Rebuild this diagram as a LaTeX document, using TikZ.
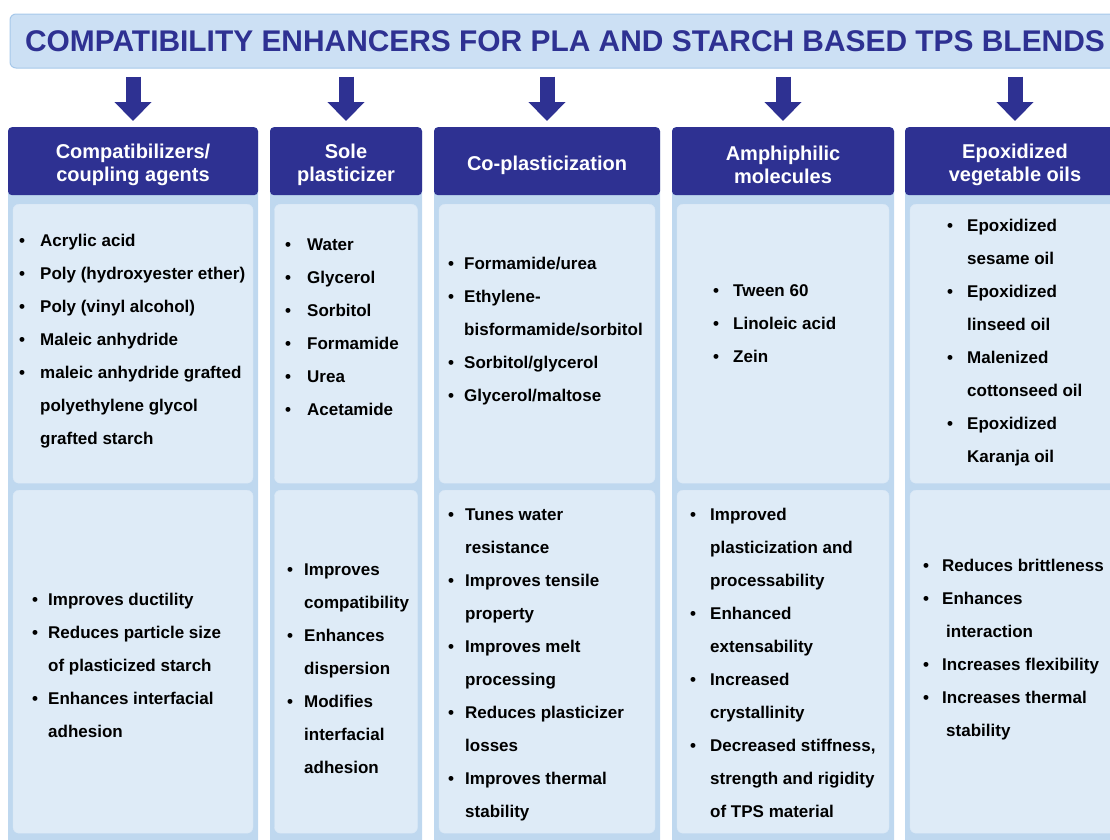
\documentclass[tikz,border=0pt]{standalone}
\usepackage{fontspec}
\setmainfont{Liberation Sans}
\usetikzlibrary{positioning,arrows.meta}

\definecolor{navy}{HTML}{2E3192}
\definecolor{bannerfill}{HTML}{CCE0F4}
\definecolor{bannerline}{HTML}{A6C8EA}
\definecolor{colfill}{HTML}{BFD8EF}
\definecolor{panelfill}{HTML}{DEEBF7}

\newlength\bw
\newcommand\bl{\makebox[\bw][l]{\textbullet}}
\newcommand\ct{\hspace*{\bw}}
\newcommand\hstrut{\rule{0pt}{22pt}}

\tikzset{
  banner/.style={draw=bannerline, fill=bannerfill, line width=1pt, rounded corners=6pt,
    minimum width=1110pt, minimum height=54pt, inner sep=0pt, text=navy,
    font=\fontsize{29.9}{30}\selectfont\bfseries},
  head/.style={fill=navy, rounded corners=4pt, minimum height=68pt, inner sep=0pt,
    anchor=north, align=center, text=white, font=\fontsize{20}{23}\selectfont\bfseries},
  column/.style={fill=colfill, rounded corners=4pt},
  panel/.style={fill=panelfill, draw=panelfill!85!colfill, rounded corners=6pt,
    anchor=north, inner sep=0pt},
  items/.style={anchor=west, align=left, inner sep=0pt,
    font=\fontsize{17}{33}\selectfont\bfseries},
  bgap/.code={\setlength\bw{#1}},
  down/.style={navy, line width=15pt, -{Triangle[width=36pt,length=19pt]},
    shorten <=8pt, shorten >=6pt}
}

\begin{document}
\begin{tikzpicture}[x=1pt, y=-1pt]
  \useasboundingbox (0,0) rectangle (1110,839);

  % title
  \node (banner) [banner] at (565,41) {COMPATIBILITY ENHANCERS FOR PLA AND STARCH BASED TPS BLENDS};

  % column backgrounds
  \path[column] (8,127) rectangle (258,850);
  \path[column] (270,127) rectangle (422,850);
  \path[column] (434,127) rectangle (660,850);
  \path[column] (672,127) rectangle (894,850);
  \path[column] (905,127) rectangle (1125,850);

  % headers
  \node (h1) [head, minimum width=250pt] at (133,127) {\hstrut Compatibilizers/\\coupling agents};
  \node (h2) [head, minimum width=152pt] at (346,127) {\hstrut Sole\\plasticizer};
  \node (h3) [head, minimum width=226pt] at (547,127) {\hstrut Co-plasticization};
  \node (h4) [head, minimum width=222pt] at (783,127) {\hstrut Amphiphilic\\molecules};
  \node (h5) [head, minimum width=220pt] at (1015,127) {\hstrut Epoxidized\\vegetable oils};

  % panels
  \node (p1a) [panel, minimum width=240pt, minimum height=279pt] at (133,204) {};
  \node (p1b) [panel, minimum width=240pt, minimum height=343pt] at (133,490) {};
  \node (p2a) [panel, minimum width=143pt, minimum height=279pt] at (346,204) {};
  \node (p2b) [panel, minimum width=143pt, minimum height=343pt] at (346,490) {};
  \node (p3a) [panel, minimum width=216pt, minimum height=279pt] at (547,204) {};
  \node (p3b) [panel, minimum width=216pt, minimum height=343pt] at (547,490) {};
  \node (p4a) [panel, minimum width=212pt, minimum height=279pt] at (783,204) {};
  \node (p4b) [panel, minimum width=212pt, minimum height=343pt] at (783,490) {};
  \node (p5a) [panel, minimum width=210pt, minimum height=279pt] at (1015,204) {};
  \node (p5b) [panel, minimum width=210pt, minimum height=343pt] at (1015,490) {};

  % lists
  \node (t1a) [items, bgap=21pt] at (19,341) {\bl Acrylic acid\\ \bl Poly (hydroxyester ether)\\
    \bl Poly (vinyl alcohol)\\ \bl Maleic anhydride\\ \bl maleic anhydride grafted\\
    \ct polyethylene glycol\\ \ct grafted starch};
  \node (t1b) [items, bgap=16pt] at (32,665) {\bl Improves ductility\\ \bl Reduces particle size\\
    \ct of plasticized starch\\ \bl Enhances interfacial\\ \ct adhesion};
  \node (t2a) [items, bgap=22pt] at (285,327) {\bl Water\\ \bl Glycerol\\ \bl Sorbitol\\
    \bl Formamide\\ \bl Urea\\ \bl Acetamide};
  \node (t2b) [items, bgap=17pt] at (287,669) {\bl Improves\\ \ct compatibility\\ \bl Enhances\\
    \ct dispersion\\ \bl Modifies\\ \ct interfacial\\ \ct adhesion};
  \node (t3a) [items, bgap=16pt] at (448,331) {\bl Formamide/urea\\ \bl Ethylene-\\
    \ct bisformamide/sorbitol\\ \bl Sorbitol/glycerol\\ \bl Glycerol/maltose};
  \node (t3b) [items, bgap=17pt] at (448,665) {\bl Tunes water\\ \ct resistance\\
    \bl Improves tensile\\ \ct property\\ \bl Improves melt\\ \ct processing\\
    \bl Reduces plasticizer\\ \ct losses\\ \bl Improves thermal\\ \ct stability};
  \node (t4a) [items, bgap=20pt] at (713,324) {\bl Tween 60\\ \bl Linoleic acid\\ \bl Zein};
  \node (t4b) [items, bgap=20pt] at (690,663) {\bl Improved\\ \ct plasticization and\\
    \ct processability\\ \bl Enhanced\\ \ct extensability\\ \bl Increased\\ \ct crystallinity\\
    \bl Decreased stiffness,\\ \ct strength and rigidity\\ \ct of TPS material};
  \node (t5a) [items, bgap=20pt] at (947,343) {\bl Epoxidized\\ \ct sesame oil\\ \bl Epoxidized\\
    \ct linseed oil\\ \bl Malenized\\ \ct cottonseed oil\\ \bl Epoxidized\\ \ct Karanja oil};
  \node (t5b) [items, bgap=19pt] at (923,650) {\bl Reduces brittleness\\ \bl Enhances\\
    \hspace*{23pt}interaction\\ \bl Increases flexibility\\ \bl Increases thermal\\
    \hspace*{23pt}stability};

  % arrows
  \foreach \h in {h1,h2,h3,h4,h5}
    \draw[down] (banner.south -| \h.north) -- (\h.north);
\end{tikzpicture}
\end{document}
